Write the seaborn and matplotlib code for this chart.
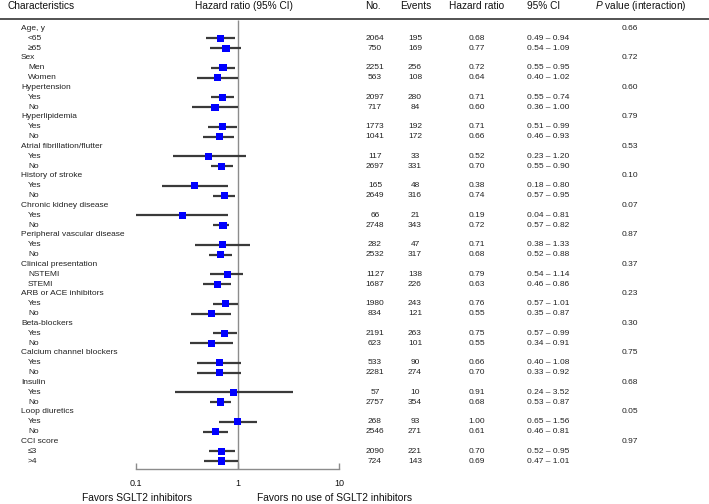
import numpy as np
import pandas as pd
import matplotlib
matplotlib.use("Agg")
import matplotlib.pyplot as plt
import matplotlib.transforms as mtransforms
from matplotlib.ticker import NullLocator, FixedLocator, FixedFormatter
import seaborn as sns

#### data
groups = ["Age, y", "Sex", "Hypertension", "Hyperlipidemia", "Atrial fibrillation/flutter",
          "History of stroke", "Chronic kidney disease", "Peripheral vascular disease",
          "Clinical presentation", "ARB or ACE inhibitors", "Beta-blockers",
          "Calcium channel blockers", "Insulin", "Loop diuretics", "CCI score"]
subgroups = [["<65", "≥65"], ["Men", "Women"], ["Yes", "No"], ["Yes", "No"], ["Yes", "No"],
             ["Yes", "No"], ["Yes", "No"], ["Yes", "No"], ["NSTEMI", "STEMI"], ["Yes", "No"],
             ["Yes", "No"], ["Yes", "No"], ["Yes", "No"], ["Yes", "No"], ["≤3", ">4"]]
p_interaction = ["0.66", "0.72", "0.60", "0.79", "0.53", "0.10", "0.07", "0.87",
                 "0.37", "0.23", "0.30", "0.75", "0.68", "0.05", "0.97"]
n_pts = [2064, 750, 2251, 563, 2097, 717, 1773, 1041, 117, 2697, 165, 2649, 66, 2748, 282,
         2532, 1127, 1687, 1980, 834, 2191, 623, 533, 2281, 57, 2757, 268, 2546, 2090, 724]
events = [195, 169, 256, 108, 280, 84, 192, 172, 33, 331, 48, 316, 21, 343, 47,
          317, 138, 226, 243, 121, 263, 101, 90, 274, 10, 354, 93, 271, 221, 143]
# values as printed in the table
hr_tab = [0.68, 0.77, 0.72, 0.64, 0.71, 0.60, 0.71, 0.66, 0.52, 0.70, 0.38, 0.74, 0.19, 0.72, 0.71,
          0.68, 0.79, 0.63, 0.76, 0.55, 0.75, 0.55, 0.66, 0.70, 0.91, 0.68, 1.00, 0.61, 0.70, 0.69]
lo_tab = [0.49, 0.54, 0.55, 0.40, 0.55, 0.36, 0.51, 0.46, 0.23, 0.55, 0.18, 0.57, 0.04, 0.57, 0.38,
          0.52, 0.54, 0.46, 0.57, 0.35, 0.57, 0.34, 0.40, 0.33, 0.24, 0.53, 0.65, 0.46, 0.52, 0.47]
hi_tab = [0.94, 1.09, 0.95, 1.02, 0.74, 1.00, 0.99, 0.93, 1.20, 0.90, 0.80, 0.95, 0.81, 0.82, 1.33,
          0.88, 1.14, 0.86, 1.01, 0.87, 0.99, 0.91, 1.08, 0.92, 3.52, 0.87, 1.56, 0.81, 0.95, 1.01]
# values as drawn in the plot (a few differ from the table)
hr_plot = [0.68, 0.77, 0.72, 0.64, 0.71, 0.60, 0.71, 0.66, 0.52, 0.70, 0.38, 0.74, 0.29, 0.72, 0.71,
           0.68, 0.79, 0.63, 0.76, 0.55, 0.75, 0.55, 0.66, 0.66, 0.91, 0.68, 1.00, 0.61, 0.70, 0.69]
lo_plot = [0.49, 0.54, 0.55, 0.40, 0.55, 0.36, 0.51, 0.46, 0.23, 0.55, 0.18, 0.57, 0.10, 0.57, 0.38,
           0.52, 0.54, 0.46, 0.57, 0.35, 0.57, 0.34, 0.40, 0.40, 0.24, 0.53, 0.65, 0.46, 0.52, 0.47]
hi_plot = [0.94, 1.09, 0.95, 1.02, 0.93, 1.00, 0.99, 0.93, 1.20, 0.90, 0.80, 0.95, 0.81, 0.82, 1.33,
           0.88, 1.14, 0.86, 1.01, 0.87, 0.99, 0.91, 1.08, 1.08, 3.52, 0.87, 1.56, 0.81, 0.95, 1.01]
x_ticks = [0.1, 1, 10]
x_ticklabels = ["0.1", "1", "10"]

sns.set_style("white")
plt.rcParams['font.family'] = ['Liberation Sans', 'DejaVu Sans']
plt.rcParams['mathtext.fontset'] = 'custom'
plt.rcParams['mathtext.it'] = 'Liberation Sans:italic'
plt.rcParams['mathtext.rm'] = 'Liberation Sans'

W, H = 709, 504
ROW0, STEP = 28.5, 9.83


def r(px):  # pixel row -> data row
    return (px - ROW0) / STEP


def fx(px):  # pixel x -> figure fraction
    return px / W


fig = plt.figure(figsize=(W / 100, H / 100), dpi=100)
ax = fig.add_axes([fx(136), 0, fx(339) - fx(136), 1])
ax.set_xscale('log')
ax.set_xlim(0.1, 10)
ax.set_ylim(r(H), r(0))
tr = mtransforms.blended_transform_factory(fig.transFigure, ax.transData)

# build row table
rows = []
k = 0
row = 0
for g, subs, p in zip(groups, subgroups, p_interaction):
    rows.append(dict(row=row, label=g, kind='group', p=p))
    row += 1
    for s in subs:
        rows.append(dict(row=row, label=s, kind='sub', n=n_pts[k], ev=events[k],
                         hr=hr_tab[k], lo=lo_tab[k], hi=hi_tab[k],
                         hrp=hr_plot[k], lop=lo_plot[k], hip=hi_plot[k]))
        k += 1
        row += 1
df = pd.DataFrame(rows)
sub = df[df.kind == 'sub']

txt = dict(fontsize=6.0, color='#222222', va='center', transform=tr, clip_on=False)
for _, d in df.iterrows():
    if d.kind == 'group':
        ax.text(fx(21), d.row, d.label, ha='left', **txt)
        ax.text(fx(630), d.row, d.p, ha='center', **txt)
    else:
        ax.text(fx(28), d.row, d.label, ha='left', **txt)
        ax.text(fx(375), d.row, f"{int(d.n)}", ha='center', **txt)
        ax.text(fx(415), d.row, f"{int(d.ev)}", ha='center', **txt)
        ax.text(fx(477), d.row, f"{d.hr:.2f}", ha='center', **txt)
        ax.text(fx(527), d.row, f"{d.lo:.2f} \u2013 {d.hi:.2f}", ha='left', **txt)

# headers
hdr = dict(fontsize=7.3, color='#111111', va='center', transform=tr, clip_on=False)
hy = r(6.5)
ax.text(fx(8), hy, "Characteristics", ha='left', **hdr)
ax.text(fx(244), hy, "Hazard ratio (95% CI)", ha='center', **hdr)
ax.text(fx(365), hy, "No.", ha='left', **hdr)
ax.text(fx(416), hy, "Events", ha='center', **hdr)
ax.text(fx(477), hy, "Hazard ratio", ha='center', **hdr)
ax.text(fx(544), hy, "95% CI", ha='center', **hdr)
ax.text(fx(595), hy, r"$\it{P}$ value (interaction)", ha='left', **hdr)
ax.plot([0, 1], [r(19.5), r(19.5)], transform=tr, color='#444444', lw=1.3, clip_on=False)

# forest marks
ax.vlines(1, r(20), r(469), color='#8c8c8c', lw=1)
ax.hlines(sub.row, sub.lop, sub.hip, color='#3a3a3a', lw=1.6, zorder=2)
sns.scatterplot(x=sub.hrp, y=sub.row, marker='s', color='#0000ff', s=26,
                edgecolor='none', ax=ax, zorder=3)
ax.set_xlabel('')
ax.set_ylabel('')

# axis
for side in ['left', 'right', 'top']:
    ax.spines[side].set_visible(False)
ax.spines['bottom'].set_position(('data', r(469)))
ax.spines['bottom'].set_bounds(0.1, 10)
ax.spines['bottom'].set_color('#8c8c8c')
ax.spines['bottom'].set_linewidth(1)
ax.xaxis.set_major_locator(FixedLocator(x_ticks))
ax.xaxis.set_major_formatter(FixedFormatter(x_ticklabels))
ax.xaxis.set_minor_locator(NullLocator())
ax.tick_params(axis='x', which='major', direction='in', length=4, width=1, color='#8c8c8c',
               labelsize=6.5, labelcolor='#111111', pad=7, bottom=True)
ax.set_yticks([])

foot = dict(fontsize=7.4, color='#111111', va='center', transform=tr, clip_on=False)
ax.text(fx(137.5), r(498), "Favors SGLT2 inhibitors", ha='center', **foot)
ax.text(fx(257), r(498), "Favors no use of SGLT2 inhibitors", ha='left', **foot)

fig.savefig("out.png", dpi=100)
